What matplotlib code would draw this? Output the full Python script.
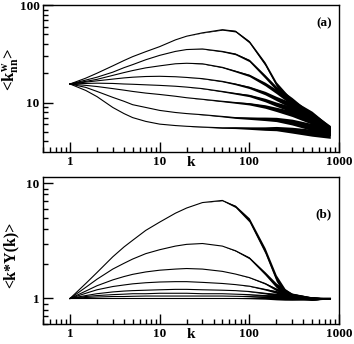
# Two-panel log-log chart: <k_nn^w> and <k*Y(k)> versus k
import matplotlib
matplotlib.use('Agg')
import matplotlib.pyplot as plt
import numpy as np

# ---------------- data ----------------
# panel (a): <k_nn^w>(k), eight curves from top to bottom
k_a = [1, 1.5, 2, 3, 4, 5, 7, 10, 15, 20, 30, 50, 70, 100, 150, 200, 300, 500, 800]
knn_1 = [15.5, 17.8, 20.0, 23.8, 27.0, 29.6, 33.3, 37.5, 44.0, 48.0, 52.0, 56.0, 54.0,
         42.0, 25.0, 15.5, 10.0, 6.5, 5.0]
knn_2 = [15.5, 17.0, 18.2, 20.5, 22.8, 24.5, 27.5, 30.5, 33.5, 35.0, 35.5, 33.5, 31.5,
         27.0, 18.5, 14.0, 10.5, 7.0, 5.0]
knn_3 = [15.5, 16.5, 17.3, 19.0, 20.3, 21.3, 22.7, 23.8, 25.0, 25.3, 25.0, 23.0, 21.0,
         19.0, 15.5, 13.0, 10.0, 7.5, 5.2]
knn_4 = [15.5, 16.2, 16.7, 17.4, 17.9, 18.2, 18.5, 18.6, 18.4, 18.1, 17.6, 16.5, 15.5,
         14.3, 12.5, 11.0, 9.3, 7.3, 5.3]
knn_5 = [15.5, 15.7, 15.8, 15.7, 15.5, 15.4, 15.2, 15.0, 14.7, 14.4, 13.9, 13.0, 12.4,
         11.8, 10.6, 9.6, 8.5, 7.0, 5.2]
knn_6 = [15.5, 15.0, 14.6, 13.9, 13.4, 13.0, 12.5, 12.1, 11.6, 11.2, 10.8, 10.3, 10.0,
         9.7, 9.1, 8.5, 7.7, 6.5, 5.2]
knn_7 = [15.5, 14.3, 13.0, 11.3, 10.3, 9.5, 8.9, 8.3, 7.9, 7.7, 7.5, 7.2, 7.0,
         6.9, 6.8, 6.7, 6.3, 5.6, 5.0]
knn_8 = [15.5, 13.3, 11.5, 8.9, 7.7, 7.0, 6.4, 6.0, 5.8, 5.7, 5.6, 5.5, 5.5,
         5.45, 5.4, 5.4, 5.2, 4.9, 4.7]
# half-width of the noisy band (decades) for panel (a)
noise_a = [0, 0, 0, 0, 0, 0, 0, 0, 0, 0, 0.002, 0.005, 0.008, 0.012, 0.018, 0.022,
           0.03, 0.036, 0.04]

# panel (b): <k*Y(k)>, eight curves from top to bottom
k_b = [1, 1.5, 2, 3, 4, 5, 7, 10, 15, 20, 30, 50, 70, 100, 150, 200, 250, 300, 500, 800]
ky_1 = [1, 1.35, 1.68, 2.3, 2.8, 3.2, 3.9, 4.6, 5.5, 6.1, 6.8, 7.1, 6.3, 4.8, 2.6, 1.5,
        1.15, 1.05, 1.0, 1.0]
ky_2 = [1, 1.25, 1.47, 1.8, 2.02, 2.2, 2.45, 2.65, 2.85, 2.95, 3.0, 2.85, 2.6, 2.25, 1.65,
        1.3, 1.15, 1.07, 1.0, 1.0]
ky_3 = [1, 1.16, 1.29, 1.45, 1.55, 1.62, 1.7, 1.76, 1.8, 1.82, 1.8, 1.72, 1.63, 1.52, 1.35,
        1.2, 1.12, 1.07, 1.0, 1.0]
ky_4 = [1, 1.11, 1.19, 1.27, 1.31, 1.34, 1.37, 1.39, 1.40, 1.40, 1.38, 1.35, 1.32, 1.28,
        1.2, 1.14, 1.08, 1.04, 1.0, 1.0]
ky_5 = [1, 1.06, 1.1, 1.14, 1.16, 1.17, 1.18, 1.19, 1.2, 1.2, 1.19, 1.18, 1.17, 1.15,
        1.11, 1.08, 1.05, 1.03, 1.0, 1.0]
ky_6 = [1, 1.04, 1.06, 1.08, 1.09, 1.1, 1.1, 1.11, 1.11, 1.11, 1.1, 1.1, 1.09, 1.08,
        1.06, 1.05, 1.03, 1.02, 1.0, 1.0]
ky_7 = [1, 1.02, 1.03, 1.04, 1.04, 1.045, 1.05, 1.05, 1.05, 1.05, 1.05, 1.05, 1.045, 1.04,
        1.03, 1.02, 1.015, 1.01, 1.0, 1.0]
ky_8 = [1, 1, 1, 1, 1, 1, 1, 1, 1, 1, 1, 1, 1, 1, 1, 1, 1, 1, 1, 1]
# half-width of the noisy band (decades) for panel (b)
noise_b1 = [0, 0, 0, 0, 0, 0, 0, 0, 0, 0, 0, 0.003, 0.01, 0.018, 0.025, 0.028, 0.026,
            0.022, 0.015, 0.004]
noise_b2 = [0, 0, 0, 0, 0, 0, 0, 0, 0, 0, 0, 0, 0.004, 0.008, 0.014, 0.02, 0.02,
            0.018, 0.013, 0.004]
noise_b3 = [0, 0, 0, 0, 0, 0, 0, 0, 0, 0, 0, 0, 0, 0.002, 0.006, 0.012, 0.015,
            0.015, 0.012, 0.004]

xticks = [1, 10, 100, 1000]
xtick_labels = ['1', '10', '100', '1000']

# ---------------- style ----------------
plt.rcParams['font.family'] = ['Liberation Serif', 'DejaVu Serif']
plt.rcParams['font.weight'] = 'bold'
plt.rcParams['mathtext.fontset'] = 'custom'
plt.rcParams['mathtext.rm'] = 'Liberation Serif:bold'
plt.rcParams['mathtext.it'] = 'Liberation Serif:bold'
plt.rcParams['mathtext.bf'] = 'Liberation Serif:bold'

fig = plt.figure(figsize=(3.54, 3.44), dpi=100)
fig.patch.set_facecolor('white')
ax_a = fig.add_axes([0.1215, 0.558, 0.836, 0.427])
ax_b = fig.add_axes([0.1215, 0.058, 0.836, 0.427])


def draw_curve(ax, k, y, noise=None):
    k = np.array(k, dtype=float)
    y = np.array(y, dtype=float)
    ax.plot(k, y, color='black', linewidth=0.8, solid_joinstyle='round')
    if noise is not None:
        amp = 10 ** np.array(noise)
        ax.fill_between(k, y / amp, y * amp, color='black', linewidth=0)


for series in [knn_1, knn_2, knn_3, knn_4, knn_5, knn_6, knn_7, knn_8]:
    draw_curve(ax_a, k_a, series, noise_a)

draw_curve(ax_b, k_b, ky_1, noise_b1)
draw_curve(ax_b, k_b, ky_2, noise_b2)
draw_curve(ax_b, k_b, ky_3, noise_b3)
for series in [ky_4, ky_5, ky_6, ky_7, ky_8]:
    draw_curve(ax_b, k_b, series, noise_b3)

# ---------------- axes formatting ----------------
for ax in (ax_a, ax_b):
    ax.set_xscale('log')
    ax.set_yscale('log')
    ax.set_xlim(0.5, 1000)
    ax.set_xticks(xticks)
    ax.set_xticklabels(xtick_labels)
    ax.tick_params(which='major', direction='in', length=7, width=1,
                   labelsize=9.5, pad=2.5, top=False, right=False)
    ax.tick_params(which='minor', direction='in', length=3.5, width=1,
                   top=False, right=False)
    ax.yaxis.set_minor_formatter(plt.NullFormatter())
    ax.xaxis.set_minor_formatter(plt.NullFormatter())
    for spine in ax.spines.values():
        spine.set_linewidth(1)
    ax.set_xlabel('k', fontsize=11, fontweight='bold')
    ax.xaxis.set_label_coords(0.5, -0.025)

ax_a.set_ylim(3.1, 100)
ax_a.set_yticks([10, 100])
ax_a.set_yticklabels(['10', '100'])
ax_a.set_ylabel(r'<$k_{nn}^{w}$>', fontsize=12, fontweight='bold')
ax_a.yaxis.set_label_coords(-0.078, 0.56)
ax_a.text(0.975, 0.88, '(a)', transform=ax_a.transAxes, ha='right',
          va='center', fontsize=9.5, fontweight='bold')

ax_b.set_ylim(0.6, 11.3)
ax_b.set_yticks([1, 10])
ax_b.set_yticklabels(['1', '10'])
ax_b.set_ylabel('<k*Y(k)>', fontsize=11.5, fontweight='bold')
ax_b.yaxis.set_label_coords(-0.084, 0.47)
ax_b.text(0.975, 0.75, '(b)', transform=ax_b.transAxes, ha='right',
          va='center', fontsize=9.5, fontweight='bold')

plt.savefig('out.png', dpi=100)
